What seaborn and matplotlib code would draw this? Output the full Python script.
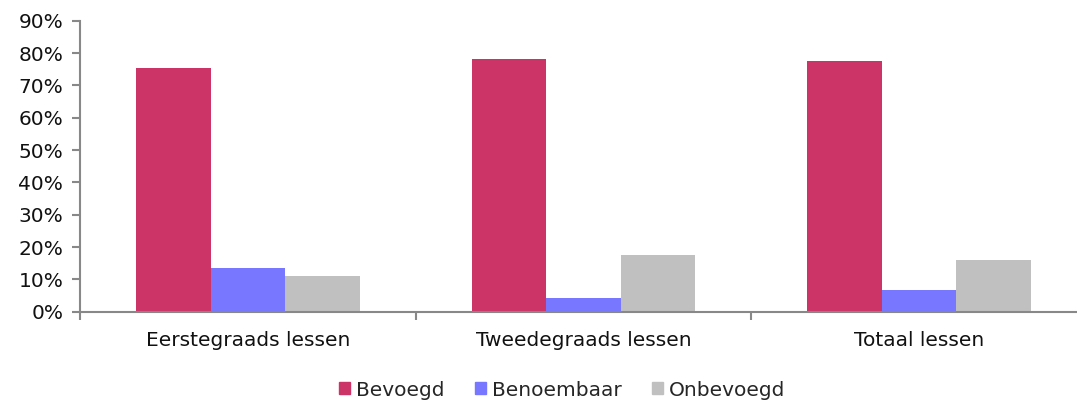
import pandas as pd
import matplotlib
matplotlib.use("Agg")
import matplotlib.pyplot as plt
import seaborn as sns
from matplotlib.ticker import PercentFormatter, FixedLocator

# Data
categories = ["Eerstegraads lessen", "Tweedegraads lessen", "Totaal lessen"]
series = ["Bevoegd", "Benoembaar", "Onbevoegd"]
bevoegd = [75.4, 78.1, 77.5]
benoembaar = [13.5, 4.1, 6.7]
onbevoegd = [11.0, 17.5, 15.9]

colors = ["#CC3366", "#7777FF", "#C0C0C0"]

rows = []
for name, vals in zip(series, [bevoegd, benoembaar, onbevoegd]):
    for cat, v in zip(categories, vals):
        rows.append({"Categorie": cat, "Groep": name, "Waarde": v})
df = pd.DataFrame(rows)

sns.set_style("white", {"xtick.bottom": True, "ytick.left": True})
plt.rcParams["font.family"] = ["DejaVu Sans"]

fig = plt.figure(figsize=(10.77, 4.03), dpi=100)
# plot area runs a little past the right edge (cropped like the original)
ax = fig.add_axes([80 / 1077, 91.3 / 403, 1007 / 1077, 291 / 403])

sns.barplot(data=df, x="Categorie", y="Waarde", hue="Groep", palette=colors,
            width=0.666, saturation=1, linewidth=0, ax=ax, legend=False)

ax.set_xlim(-0.5, 2.5)
ax.set_ylim(0, 90)
ax.set_yticks(range(0, 91, 10))
ax.yaxis.set_major_formatter(PercentFormatter(decimals=0))
ax.set_xlabel("")
ax.set_ylabel("")

for s in ["top", "right"]:
    ax.spines[s].set_visible(False)
for s in ["left", "bottom"]:
    ax.spines[s].set_color("#888888")
    ax.spines[s].set_linewidth(1.5)

ax.tick_params(axis="y", direction="out", length=6, width=1.5, color="#888888",
               labelsize=14.5, pad=6, labelcolor="#111111")
ax.tick_params(axis="x", which="major", length=0, labelsize=14.5, pad=14,
               labelcolor="#111111")
ax.xaxis.set_minor_locator(FixedLocator([-0.5, 0.5, 1.5]))
ax.tick_params(axis="x", which="minor", direction="out", length=6, width=1.5,
               color="#888888", bottom=True)

handles = [plt.Rectangle((0, 0), 1, 1, color=c) for c in colors]
fig.legend(handles, series, loc="center", bbox_to_anchor=(0.522, 1 - 390 / 403),
           ncol=3, frameon=False, fontsize=14.5, handlelength=0.55,
           handleheight=0.55, handletextpad=0.3, columnspacing=1.5)

fig.savefig("out.png", dpi=100)
